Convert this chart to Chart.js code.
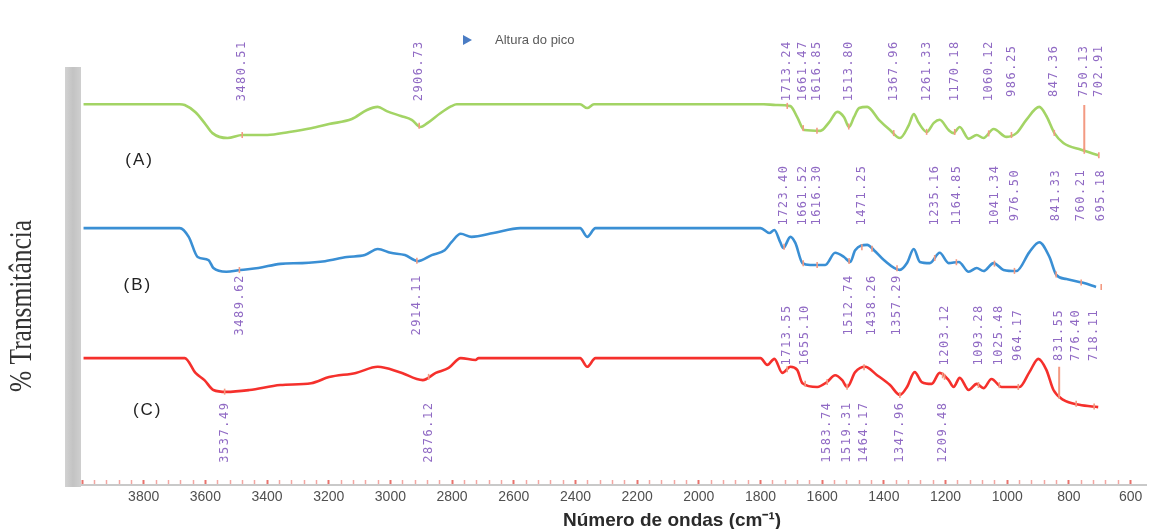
<!DOCTYPE html>
<html>
<head>
<meta charset="utf-8">
<script src="https://cdn.jsdelivr.net/npm/chart.js@4.4.1/dist/chart.umd.min.js"></script>
<style>
  html, body { margin: 0; padding: 0; background: #fff; overflow: hidden; }
  #wrap { width: 1155px; height: 529px; }
</style>
</head>
<body>
<div id="wrap"><canvas id="c" width="1155" height="529"></canvas></div>
<script>
// FTIR spectra (A), (B), (C), stacked with a vertical offset. x: wavenumber (cm-1), y: % transmittance.
const waveA = [3995,3683,3667,3632,3603,3577,3528,3480,3399,3328,3257,3199,3125,3076,3041,3012,2966,2931,2902,2879,2837,2802,2785,2385,2362,2340,1790,1750,1703,1681,1658,1606,1577,1551,1529,1513,1497,1480,1454,1416,1380,1348,1319,1303,1287,1261,1238,1219,1190,1174,1154,1125,1099,1077,1044,1002,970,938,896,873,847,818,760,705];
const transA = [100.2,100.2,100.0,98.1,95.3,92.6,91.3,92.1,92.1,92.9,93.9,95.0,96.3,98.7,99.5,98.4,97.1,96.1,94.2,95.3,97.9,99.7,100.2,100.2,99.2,100.2,100.2,100.0,99.7,96.8,93.4,93.2,95.5,98.2,96.8,94.2,96.8,99.2,99.5,96.1,93.4,91.3,94.7,97.6,95.3,92.9,95.3,96.1,93.4,92.6,94.2,91.1,92.1,91.3,93.7,91.6,92.6,96.1,99.5,97.1,92.6,90.0,88.2,86.8];

const waveB = [3995,3683,3654,3625,3590,3574,3532,3486,3428,3357,3286,3212,3141,3083,3041,2999,2953,2911,2866,2824,2802,2772,2737,2666,2579,2385,2362,2335,1800,1771,1755,1736,1726,1703,1687,1664,1639,1590,1558,1529,1509,1493,1454,1432,1400,1348,1325,1303,1283,1251,1219,1190,1157,1125,1099,1077,1044,1012,970,928,896,863,841,808,754,712];
const transB = [67.6,67.6,65.3,60.0,59.2,57.1,56.1,56.6,57.1,58.2,58.4,58.9,60.0,60.5,62.1,61.1,60.5,58.9,60.5,61.8,63.9,66.1,65.3,66.3,67.6,67.6,65.3,67.6,67.6,66.3,67.1,63.9,62.4,65.3,63.7,58.4,57.9,57.9,61.1,60.0,58.7,61.8,63.2,61.8,59.2,56.6,58.4,62.1,58.7,58.4,61.1,58.4,58.7,56.1,57.1,56.3,58.4,56.6,56.3,61.3,63.9,60.0,55.3,54.2,53.2,52.1];

const waveC = [3995,3667,3632,3603,3574,3532,3457,3357,3257,3199,3112,3041,2970,2895,2853,2811,2772,2724,2714,2385,2362,2335,1800,1778,1755,1729,1703,1681,1664,1616,1584,1558,1535,1519,1493,1461,1422,1380,1348,1325,1300,1277,1245,1219,1190,1174,1154,1125,1099,1077,1051,1018,960,928,899,873,850,818,766,705];
const transC = [33.4,33.4,29.5,27.6,25.0,24.5,25.0,26.3,26.8,28.4,29.5,31.1,29.7,27.6,29.5,30.8,33.4,32.9,33.4,33.4,31.1,33.4,33.4,31.6,33.2,29.5,31.1,30.3,26.8,25.8,27.1,28.9,27.6,25.8,29.7,31.1,28.9,26.3,23.7,25.8,29.7,27.1,26.6,29.5,27.6,25.8,28.2,25.0,26.6,25.5,27.9,25.8,25.8,29.7,33.2,30.3,25.0,22.4,21.1,20.5];

// Peak positions (cm-1) picked on each spectrum; the label text is the value itself.
const peaksA = [3480.51, 2906.73, 1713.24, 1661.47, 1616.85, 1513.80, 1367.96, 1261.33, 1170.18, 1060.12, 986.25, 847.36, 750.13, 702.91];
const peaksBTop = [1723.40, 1661.52, 1616.30, 1471.25, 1235.16, 1164.85, 1041.34, 976.50, 841.33, 760.21, 695.18];
const peaksBBottom = [3489.62, 2914.11, 1512.74, 1438.26, 1357.29];
const peaksCTop = [1713.55, 1655.10, 1203.12, 1093.28, 1025.48, 964.17, 831.55, 776.40, 718.11];
const peaksCBottom = [3537.49, 2876.12, 1583.74, 1519.31, 1464.17, 1347.96, 1209.48];

// Drop lines from a peak label down to its band: [wavenumber, upper %T, lower %T]
const dropLines = [[750.13, 100.0, 88.0], [831.55, 31.1, 23.4]];

const seriesNames = ['(A)', '(B)', '(C)'];
const legendText = 'Altura do pico';
const xTitle = 'Número de ondas (cm⁻¹)';
const yTitle = '% Transmitância';

// ---- layout / style ----
const layoutCfg = {
  nameAt: [[3813, 85.5], [3819, 52.6], [3787, 19.7]],
  bandA: 109.0, bandBTop: 76.3, bandBBottom: 47.4, bandCTop: 39.5, bandCBottom: 13.9
};
const colA = '#a3d465', colB = '#3a8fd4', colC = '#f5302c';
const peakCol = '#f39a82', labelCol = 'rgba(132, 90, 190, 0.9)';

function interp(ws, ts, w) {
  for (let i = 0; i < ws.length - 1; i++) {
    const a = ws[i], b = ws[i + 1];
    if (w <= a && w >= b) {
      const f = (a - w) / (a - b);
      return ts[i] + f * (ts[i + 1] - ts[i]);
    }
  }
  return w > ws[0] ? ts[0] : ts[ts.length - 1];
}
const toXY = (ws, ts) => ws.map((w, i) => ({ x: w, y: ts[i] }));
const marks = (vals, ws, ts) => vals.map(v => ({ x: v, y: interp(ws, ts, v) }));

const lineDs = (data, color) => ({
  type: 'line', data, borderColor: color, backgroundColor: color,
  borderWidth: 2.6, pointRadius: 0, cubicInterpolationMode: 'monotone', fill: false, order: 2
});

const peakMarks = [].concat(
  marks(peaksA, waveA, transA),
  marks(peaksBTop, waveB, transB), marks(peaksBBottom, waveB, transB),
  marks(peaksCTop, waveC, transC), marks(peaksCBottom, waveC, transC)
);

const datasets = [
  lineDs(toXY(waveA, transA), colA),
  lineDs(toXY(waveB, transB), colB),
  lineDs(toXY(waveC, transC), colC),
  {
    type: 'scatter', label: legendText, data: peakMarks,
    pointStyle: 'line', rotation: 90, pointRadius: 3, borderWidth: 1.6,
    borderColor: peakCol, backgroundColor: peakCol, order: 1
  }
].concat(dropLines.map(d => ({
  type: 'line', data: [{ x: d[0], y: d[1] }, { x: d[0], y: d[2] }],
  borderColor: peakCol, borderWidth: 2, pointRadius: 0, order: 1
})));

const decor = {
  id: 'decor',
  beforeDraw(chart) {
    const { ctx, chartArea } = chart;
    ctx.save();
    const x0 = chartArea.left - 17;
    const g = ctx.createLinearGradient(x0, 0, x0 + 16, 0);
    g.addColorStop(0, '#d2d2d2'); g.addColorStop(0.5, '#c3c3c3'); g.addColorStop(1, '#cfcfcf');
    ctx.fillStyle = g;
    ctx.fillRect(x0, chartArea.top, 16, chartArea.bottom + 2 - chartArea.top);
    ctx.restore();
  },
  afterDraw(chart) {
    const { ctx, scales: { x, y } } = chart;
    ctx.save();
    // peak labels, rotated
    ctx.font = '12px "DejaVu Sans Mono", monospace';
    ctx.letterSpacing = '1.5px';
    ctx.fillStyle = labelCol;
    ctx.textAlign = 'center';
    ctx.textBaseline = 'middle';
    const groups = [
      [peaksA, layoutCfg.bandA], [peaksBTop, layoutCfg.bandBTop], [peaksBBottom, layoutCfg.bandBBottom],
      [peaksCTop, layoutCfg.bandCTop], [peaksCBottom, layoutCfg.bandCBottom]
    ];
    groups.forEach(([vals, band]) => {
      vals.forEach(v => {
        ctx.save();
        ctx.translate(x.getPixelForValue(v), y.getPixelForValue(band));
        ctx.rotate(-Math.PI / 2);
        ctx.fillText(v.toFixed(2), 0, 0);
        ctx.restore();
      });
    });
    ctx.letterSpacing = '0px';

    // series tags
    ctx.font = '17px "Liberation Sans", Arial, sans-serif';
    ctx.letterSpacing = '2px';
    ctx.fillStyle = '#222';
    seriesNames.forEach((n, i) => {
      const p = layoutCfg.nameAt[i];
      ctx.fillText(n, x.getPixelForValue(p[0]), y.getPixelForValue(p[1]));
    });
    ctx.letterSpacing = '0px';

    // legend entry
    ctx.fillStyle = '#4a7cc4';
    ctx.beginPath();
    ctx.moveTo(463, 35); ctx.lineTo(472, 40); ctx.lineTo(463, 45); ctx.closePath();
    ctx.fill();
    ctx.fillStyle = '#5a5a5a';
    ctx.font = '13px "Liberation Sans", Arial, sans-serif';
    ctx.textAlign = 'left';
    ctx.fillText(legendText, 495, 40);

    // axis titles
    ctx.fillStyle = '#2a2a2a';
    ctx.font = 'bold 19px "Liberation Sans", Arial, sans-serif';
    ctx.textAlign = 'center';
    ctx.textBaseline = 'alphabetic';
    ctx.fillText(xTitle, 672, 526);

    ctx.save();
    ctx.translate(23, 306);
    ctx.rotate(-Math.PI / 2);
    ctx.scale(0.82, 1);
    ctx.font = '31px "Liberation Serif", "DejaVu Serif", serif';
    ctx.fillStyle = '#333';
    ctx.textBaseline = 'middle';
    ctx.fillText(yTitle, 0, 0);
    ctx.restore();
    ctx.restore();
  }
};

new Chart(document.getElementById('c'), {
  type: 'line',
  data: { datasets },
  options: {
    responsive: false,
    devicePixelRatio: 1,
    animation: false,
    events: [],
    layout: { padding: { left: 82, right: 5, top: 67, bottom: 0 } },
    plugins: { legend: { display: false }, tooltip: { enabled: false } },
    scales: {
      x: {
        type: 'linear', reverse: true, min: 550, max: 4000,
        afterFit(s) { s.height = 44; },
        border: { display: true, color: '#c9c9c9', width: 2 },
        grid: {
          drawOnChartArea: false, drawTicks: true, tickLength: -5,
          tickColor: c => (c.tick && c.tick.value % 200 === 0) ? '#e8726c' : (c.tick && c.tick.value % 40 === 0 ? '#f3a6a2' : 'rgba(0,0,0,0)'),
          tickWidth: c => (c.tick && c.tick.value % 200 === 0) ? 2 : 1.5
        },
        ticks: {
          stepSize: 40, autoSkip: false, maxTicksLimit: 200, maxRotation: 0, padding: 9,
          color: '#505050', font: { family: '"Liberation Sans", Arial, sans-serif', size: 14 },
          callback: v => (v % 200 === 0 && v <= 3800 && v >= 600) ? String(v) : ''
        }
      },
      y: { display: false, min: 0, max: 110 }
    }
  },
  plugins: [decor]
});
</script>
</body>
</html>
